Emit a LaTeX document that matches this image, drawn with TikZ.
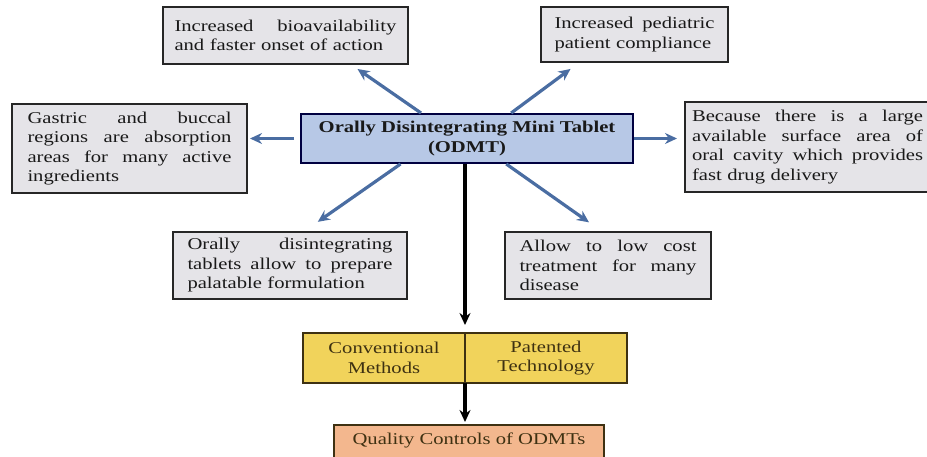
\documentclass[tikz,border=0pt]{standalone}
\usepackage{fontspec}
\setmainfont{Liberation Serif}[FakeStretch=1.25]
\usepackage{tikz}
\usetikzlibrary{positioning, arrows.meta}

\definecolor{boxgray}{HTML}{E5E4E8}
\definecolor{boxblue}{HTML}{B7C8E6}
\definecolor{boxyellow}{HTML}{F1D35B}
\definecolor{boxorange}{HTML}{F3B78E}
\definecolor{arrblue}{HTML}{4A6DA2}
\definecolor{txtbrown}{HTML}{3E3112}

\newcommand{\diagfont}{\fontsize{16.5}{19.5}\selectfont}
\newcommand{\fillline}[1]{\leavevmode\hbox to \hsize{\spaceskip=\fontdimen2\font plus 1fil\relax #1}}

\begin{document}
\begin{tikzpicture}[x=1pt, y=-1pt, >={Stealth[length=12pt, width=11pt]},
        every node/.style={font=\diagfont},
        infobox/.style={draw=black!85, fill=boxgray, line width=2pt, align=left, text=black!90},
        mainbox/.style={draw=black!75!blue, fill=boxblue, line width=2pt, align=center, font=\diagfont\bfseries, text=black!90},
        methodbox/.style={draw=txtbrown, fill=boxyellow, line width=2pt, align=center, text=txtbrown,
            minimum width=162pt, minimum height=50pt, outer sep=0pt},
        qcbox/.style={draw=txtbrown, fill=boxorange, line width=2pt, text=txtbrown, minimum width=270pt},
        bluearr/.style={->, draw=arrblue, line width=3.2pt},
        blackarr/.style={->, draw=black, line width=4pt}]
            \useasboundingbox (0, 0) rectangle (927, 457);

            \node [mainbox, minimum width=332pt, minimum height=49pt] (odmt) at (467, 138.5) {Orally Disintegrating Mini Tablet\\(ODMT)};

            \node [infobox, text width=222pt, inner xsep=11.5pt, minimum height=57pt] (bio) at (285.5, 35.5) {\fillline{Increased bioavailability}\\and faster onset of action};
            \node [infobox, text width=160pt, inner xsep=13.5pt, minimum height=55pt] (ped) at (634.5, 34.5) {\fillline{Increased pediatric}\\patient compliance};
            \node [infobox, text width=204pt, inner xsep=15.5pt, minimum height=89pt] (gas) at (129.5, 148.5) {\fillline{Gastric and buccal}\\\fillline{regions are absorption}\\\fillline{areas for many active}\\ingredients};
            \node [infobox, text width=231pt, inner xsep=7pt, minimum height=90pt] (surf) at (807.5, 147) {\fillline{Because there is a large}\\\fillline{available surface area of}\\\fillline{oral cavity which provides}\\fast drug delivery};
            \node [infobox, text width=205pt, inner xsep=14.5pt, minimum height=67pt] (pal) at (290, 265.5) {\fillline{Orally disintegrating}\\\fillline{tablets allow to prepare}\\palatable formulation};
            \node [infobox, text width=177pt, inner xsep=14.5pt, minimum height=67pt] (cost) at (608, 265.5) {\fillline{Allow to low cost}\\\fillline{treatment for many}\\disease};

            \node [methodbox] (conv) at (384, 358) {Conventional\\Methods};
            \node [methodbox, right=0pt of conv] (pat) {Patented\\Technology};
            \node [qcbox, anchor=base, inner ysep=4pt, text height=15pt, text depth=20pt] (qc) at (469, 444) {Quality Controls of ODMTs};

            \draw [bluearr, shorten >=7pt] (odmt.151) -- (bio.-24);
            \draw [bluearr, shorten >=10pt] (odmt.30) -- (ped.207);
            \draw [bluearr, shorten <=6pt, shorten >=2pt] (odmt.west) -- (odmt.west -| gas.east);
            \draw [bluearr, shorten >=7pt] (odmt.east) -- (odmt.east -| surf.west);
            \draw [bluearr, shorten >=16pt] (odmt.201) -- (pal.67);
            \draw [bluearr, shorten >=15pt] (odmt.-33) -- (cost.101);

            \draw [blackarr, shorten >=8pt] (odmt.south -| conv.east) -- (conv.north east);
            \draw [blackarr, shorten >=2pt] (conv.south east) -- (conv.south east |- qc.north);
        \end{tikzpicture}
\end{document}
